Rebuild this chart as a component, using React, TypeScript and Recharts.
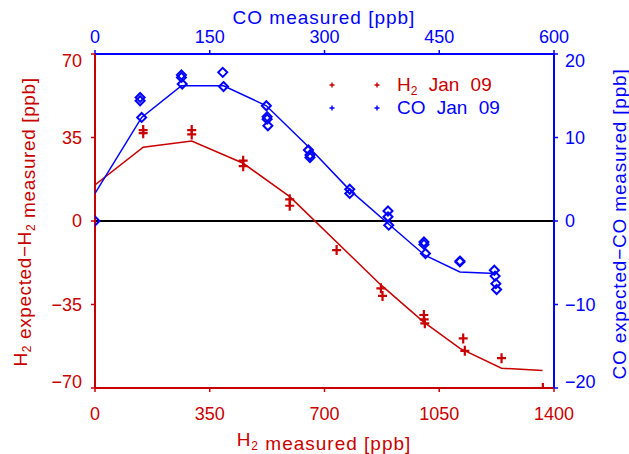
import { ComposedChart, Legend, ReferenceLine, Scatter, XAxis, YAxis } from "recharts";

const RED = "#c80000";
const BLUE = "#0000ff";
const FONT = '"Liberation Sans", Arial, sans-serif';

// axis ticks
const h2Ticks = [0, 350, 700, 1050, 1400];
const coTicks = [0, 150, 300, 450, 600];
const h2DiffTicks = [-70, -35, 0, 35, 70];
const coDiffTicks = [-20, -10, 0, 10, 20];

// H2: fitted curve + observations (x = H2 measured, y = expected - measured)
const h2FitX = [0, 147, 295, 452, 594, 872, 1001, 1113, 1240, 1365];
const h2FitY = [15.1, 30.9, 33.5, 24.2, 10.2, -26.8, -42.2, -53.4, -61.7, -62.7];
const h2ObsX = [147, 147, 295, 295, 452, 452, 594, 594, 737, 872, 877, 1003, 1004, 1006, 1123, 1128, 1240, 1366];
const h2ObsY = [38.1, 36.8, 38.1, 36.3, 25.3, 23.0, 9.1, 6.4, -12.2, -28.2, -31.4, -39.4, -41.2, -42.9, -49.2, -54.4, -57.5, -70];

// CO: fitted curve + observations
const coFitX = [0, 61, 113, 168, 224, 279, 333, 383, 431, 477, 523];
const coFitY = [3.3, 12.4, 16.2, 16.2, 13.8, 8.9, 3.7, -0.3, -4.1, -6.1, -6.3];
const coObsX = [0, 59, 59, 61, 113, 113, 114, 167, 168, 224, 225, 225, 226, 279, 281, 281, 333, 333, 383, 383, 384, 430, 430, 432, 477, 477, 522, 523, 524, 525];
const coObsY = [0, 14.8, 14.4, 12.4, 17.5, 17.2, 16.4, 17.8, 16.1, 13.8, 12.5, 12.2, 11.4, 8.5, 7.9, 7.6, 3.8, 3.3, 1.2, 0.5, -0.5, -2.5, -2.8, -3.9, -4.8, -4.9, -5.9, -6.6, -7.5, -8.2];

const zip = (xs: number[], ys: number[]) => xs.map((x, i) => ({ x, y: ys[i] }));

const h2Fit = zip(h2FitX, h2FitY);
const h2Obs = zip(h2ObsX, h2ObsY);
const coFit = zip(coFitX, coFitY);
const coObs = zip(coObsX, coObsY);

const minus = (v: number) => String(v).replace("-", "\u2212");

const PlusMark = (p: any) => (
  <path d={`M${p.cx - 4.5},${p.cy}h9M${p.cx},${p.cy - 5}v10`} stroke={RED} strokeWidth={2.2} fill="none" />
);

const DiamondMark = (p: any) => (
  <path
    d={`M${p.cx},${p.cy - 4.5}L${p.cx + 4.5},${p.cy}L${p.cx},${p.cy + 4.5}L${p.cx - 4.5},${p.cy}Z`}
    stroke={BLUE}
    strokeWidth={2}
    fill="none"
  />
);

const NoMark = () => <g />;

// y tick labels: the end labels sit pulled inward, as in the original
const makeYTick = (color: string, anchor: "start" | "end", min: number, max: number) => (p: any) => {
  const v = p.payload.value;
  const shift = v === max ? 7 : v === min ? -6 : 0;
  return (
    <text x={p.x} y={p.y + shift} dy="0.35em" textAnchor={anchor} fill={color} fontSize={18} fontFamily={FONT}>
      {minus(v)}
    </text>
  );
};

const Sub = ({ n }: { n: string }) => (
  <>
    <tspan fontSize={12} dy={4}>{n}</tspan>
    <tspan dy={-4}>{""}</tspan>
  </>
);

const legendRows = [
  { name: "H", sub: "2", rest: " Jan 09", color: RED },
  { name: "CO", sub: "", rest: " Jan 09", color: BLUE },
];

function LegendBox() {
  return (
    <div style={{ fontFamily: FONT, fontSize: 19, wordSpacing: 6 }}>
      {legendRows.map((r) => (
        <div key={r.name} style={{ display: "flex", alignItems: "center", height: 23.5, color: r.color }}>
          <svg width={62} height={14}>
            <path d="M4.5,7h5M7,4.5v5M49.5,7h5M52,4.5v5" stroke={r.color} strokeWidth={1.4} fill="none" />
          </svg>
          <span style={{ marginLeft: 10, whiteSpace: "pre" }}>
            {r.name}
            {r.sub && <span style={{ fontSize: 12, position: "relative", top: 4 }}>{r.sub}</span>}
            {r.rest}
          </span>
        </div>
      ))}
    </div>
  );
}

export default function App() {
  return (
    <div style={{ position: "absolute", left: 0, top: 0, background: "#fff" }}>
      <ComposedChart width={629} height={454} margin={{ top: 0, right: 0, bottom: 0, left: 0 }}>
        <XAxis
          xAxisId="h2"
          dataKey="x"
          type="number"
          orientation="bottom"
          domain={[0, 1400]}
          ticks={h2Ticks}
          allowDataOverflow
          height={66}
          axisLine={{ stroke: RED, strokeWidth: 2 }}
          tickLine={{ stroke: RED, strokeWidth: 1.5 }}
          tickSize={4}
          tickMargin={15}
          tick={{ fill: RED, fontSize: 18, fontFamily: FONT }}
          label={() => (
            <text x={324} y={446} textAnchor="middle" fill={RED} fontSize={19} fontFamily={FONT} letterSpacing={1}>
              H<Sub n="2" /> measured [ppb]
            </text>
          )}
        />
        <XAxis
          xAxisId="co"
          dataKey="x"
          type="number"
          orientation="top"
          domain={[0, 600]}
          ticks={coTicks}
          allowDataOverflow
          height={54}
          axisLine={{ stroke: BLUE, strokeWidth: 2 }}
          tickLine={{ stroke: BLUE, strokeWidth: 1.5 }}
          tickSize={4}
          tickMargin={7}
          tick={{ fill: BLUE, fontSize: 18, fontFamily: FONT }}
          label={() => (
            <text x={324} y={24} textAnchor="middle" fill={BLUE} fontSize={19} fontFamily={FONT} letterSpacing={1}>
              CO measured [ppb]
            </text>
          )}
        />
        <YAxis
          yAxisId="h2d"
          dataKey="y"
          type="number"
          orientation="left"
          domain={[-70, 70]}
          ticks={h2DiffTicks}
          allowDataOverflow
          width={95}
          axisLine={{ stroke: RED, strokeWidth: 2 }}
          tickLine={{ stroke: RED, strokeWidth: 1.5 }}
          tickSize={4}
          tickMargin={9}
          tick={makeYTick(RED, "end", -70, 70)}
          label={() => (
            <text
              x={27}
              y={222}
              transform="rotate(-90 27 222)"
              textAnchor="middle"
              fill={RED}
              fontSize={19}
              fontFamily={FONT}
              letterSpacing={0.6}
            >
              H<Sub n="2" /> expected{"\u2212"}H<Sub n="2" /> measured [ppb]
            </text>
          )}
        />
        <YAxis
          yAxisId="cod"
          dataKey="y"
          type="number"
          orientation="right"
          domain={[-20, 20]}
          ticks={coDiffTicks}
          allowDataOverflow
          width={75}
          axisLine={{ stroke: BLUE, strokeWidth: 2 }}
          tickLine={{ stroke: BLUE, strokeWidth: 1.5 }}
          tickSize={4}
          tickMargin={7}
          tick={makeYTick(BLUE, "start", -20, 20)}
          label={() => (
            <text
              x={626}
              y={224}
              transform="rotate(-90 626 224)"
              textAnchor="middle"
              fill={BLUE}
              fontSize={19}
              fontFamily={FONT}
              letterSpacing={0.8}
            >
              CO expected{"\u2212"}CO measured [ppb]
            </text>
          )}
        />
        <ReferenceLine xAxisId="h2" yAxisId="h2d" y={0} stroke="#000" strokeWidth={2} />
        <Scatter
          name="h2fit"
          data={h2Fit}
          xAxisId="h2"
          yAxisId="h2d"
          line={{ stroke: RED, strokeWidth: 1.5 }}
          shape={NoMark}
          isAnimationActive={false}
        />
        <Scatter name="h2obs" data={h2Obs} xAxisId="h2" yAxisId="h2d" shape={PlusMark} isAnimationActive={false} />
        <Scatter
          name="cofit"
          data={coFit}
          xAxisId="co"
          yAxisId="cod"
          line={{ stroke: BLUE, strokeWidth: 1.5 }}
          shape={NoMark}
          isAnimationActive={false}
        />
        <Scatter name="coobs" data={coObs} xAxisId="co" yAxisId="cod" shape={DiamondMark} isAnimationActive={false} />
        <Legend
          layout="vertical"
          align="center"
          verticalAlign="middle"
          wrapperStyle={{ position: "absolute", left: 325, top: 73, width: "auto", height: "auto" }}
          content={() => <LegendBox />}
        />
      </ComposedChart>
    </div>
  );
}
